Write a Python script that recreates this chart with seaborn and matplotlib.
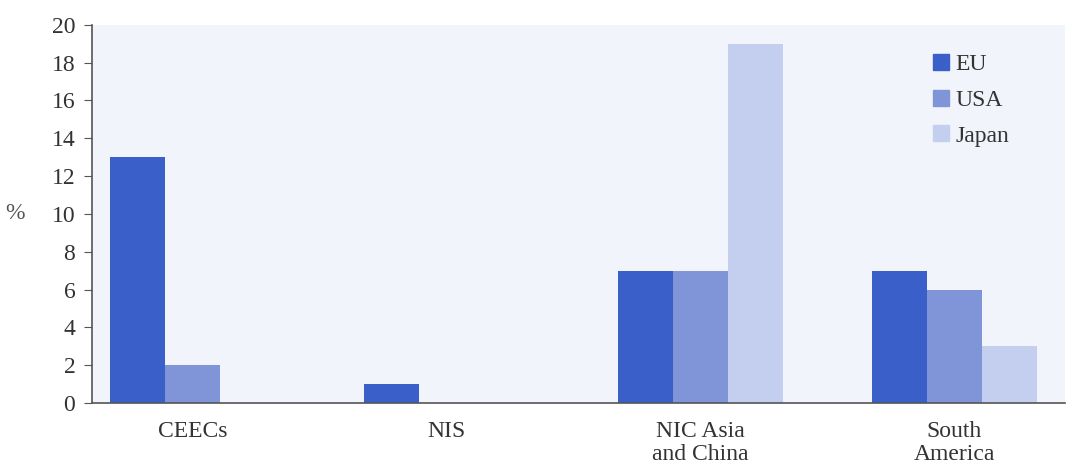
import pandas as pd
import matplotlib.pyplot as plt
import seaborn as sns

# Data
regions = ["CEECs", "NIS", "NIC Asia\nand China", "South\nAmerica"]
eu = [13, 1, 7, 7]
usa = [2, 0, 7, 6]
japan = [0, 0, 19, 3]
series = ["EU", "USA", "Japan"]

df = pd.DataFrame({"region": regions, "EU": eu, "USA": usa, "Japan": japan})
df = df.melt(id_vars="region", var_name="series", value_name="pct")

sns.set_style("white")
plt.rcParams["font.family"] = ["Liberation Serif", "DejaVu Serif"]

palette = {"EU": "#3b5fc8", "USA": "#7f95d8", "Japan": "#c4cff0"}

fig = plt.figure(figsize=(10.7, 4.68), dpi=100)
ax = fig.add_axes([0.086, 0.139, 0.909, 0.808])
ax.set_facecolor("#f1f4fa")

sns.barplot(data=df, x="region", y="pct", hue="series", hue_order=series,
            palette=palette, width=0.65, saturation=1, linewidth=0,
            ax=ax, legend=False)

ax.set_ylim(0, 20)
ax.set_yticks(range(0, 21, 2))
ax.set_xlim(-0.396, 3.435)

for s in ["top", "right"]:
    ax.spines[s].set_visible(False)
for s in ["left", "bottom"]:
    ax.spines[s].set_color("#555555")
    ax.spines[s].set_linewidth(1.2)

ax.tick_params(axis="y", length=6, color="#555555", labelsize=17,
               labelcolor="#333333", pad=6, left=True)
ax.tick_params(axis="x", length=0, labelsize=17, labelcolor="#333333", pad=13)
for lbl in ax.get_xticklabels():
    lbl.set_linespacing(1.1)

ax.set_xlabel("")
ax.set_ylabel("%", rotation=0, fontsize=17, color="#555555", labelpad=26, va="center")

# legend with square markers
handles = [plt.Line2D([], [], marker="s", linestyle="", markersize=12,
                      color=palette[s]) for s in series]
ax.legend(handles, series, loc="upper right", bbox_to_anchor=(0.965, 0.98),
          frameon=False, fontsize=17, labelspacing=0.6, handletextpad=0.15,
          handlelength=0.9, labelcolor="#333333")

plt.savefig("out.png", dpi=100)
